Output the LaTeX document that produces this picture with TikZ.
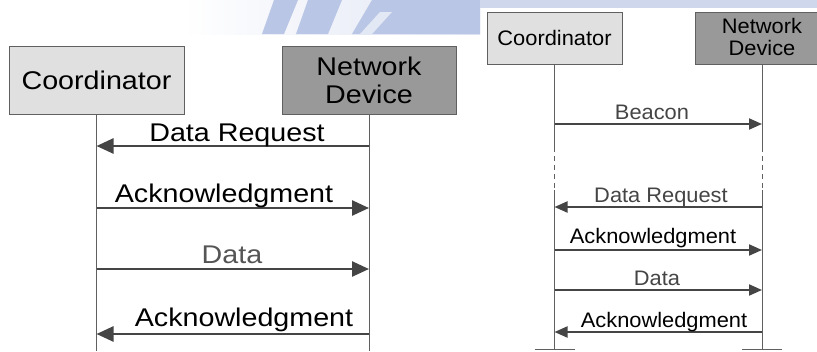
\documentclass[tikz,border=0pt]{standalone}
\usepackage{fontspec}
\usetikzlibrary{arrows.meta}
\newfontfamily\bigsf[FakeStretch=1.12]{Liberation Sans}
\newfontfamily\smallsf[FakeStretch=1.04]{Liberation Sans}
\definecolor{boxlight}{HTML}{E0E0E0}
\definecolor{boxdark}{HTML}{999999}
\definecolor{rulegray}{HTML}{606060}
\definecolor{msggray}{HTML}{454545}
\definecolor{datagray}{HTML}{555555}
\definecolor{wmblue}{HTML}{BAC6E5}
\begin{document}
\begin{tikzpicture}[x=1pt,y=-1pt,
  lightbox/.style={draw=rulegray,fill=boxlight,line width=1pt,inner sep=0pt,align=center},
  darkbox/.style={draw=rulegray,fill=boxdark,line width=1pt,inner sep=0pt,align=center},
  life/.style={draw=rulegray,line width=1pt},
  msgbig/.style={draw=msggray,line width=2.5pt,-{Triangle[length=17pt,width=15pt]}},
  msgsmall/.style={draw=msggray,line width=2pt,-{Triangle[length=13pt,width=11pt]}},
  txtbig/.style={font=\fontsize{25.6}{28}\bigsf,anchor=base,inner sep=0pt},
  txtsmall/.style={font=\fontsize{21}{22}\smallsf,anchor=base,inner sep=0pt}]
\fill[white] (0,0) rectangle (817,351);
\useasboundingbox (0,0) rectangle (817,351);
\begin{scope}
\clip (183,0) rectangle (480,34);
\shade[left color=white,right color=wmblue!45] (183,0) rectangle (480,34);
\fill[wmblue] (262,34) -- (284,34) -- (298,0) -- (274,0) -- cycle;
\fill[wmblue] (296,34) -- (328,34) -- (342,0) -- (308,0) -- cycle;
\fill[wmblue] (352,34) -- (480,34) -- (480,0) -- (372,0) -- cycle;
\fill[white!60!wmblue] (360,34) -- (372,34) -- (392,12) -- (380,12) -- cycle;
\end{scope}
\fill[wmblue!70] (480,0) rectangle (817,8);

% left: polling sequence
\node[lightbox,minimum width=175pt,minimum height=68pt,font=\fontsize{25.6}{28}\bigsf] (co1) at (96.5,80) {Coordinator};
\node[darkbox,minimum width=174pt,minimum height=68pt,font=\fontsize{25.6}{28}\bigsf] (nd1) at (369,80) {Network\\Device};
\coordinate (co1e) at (96.5,351);
\coordinate (nd1e) at (369,351);
\draw[life] (co1.south) -- (co1e);
\draw[life] (nd1.south) -- (nd1e);
\draw[msgbig] (nd1.south |- 0,146) -- (co1.south |- 0,146);
\draw[msgbig] (co1.south |- 0,208) -- (nd1.south |- 0,208);
\draw[msgbig] (co1.south |- 0,269) -- (nd1.south |- 0,269);
\draw[msgbig] (nd1.south |- 0,334) -- (co1.south |- 0,334);
\node[txtbig] (l1) at (237,141) {Data Request};
\node[txtbig] (l2) at (224,202) {Acknowledgment};
\node[txtbig,text=datagray] (l3) at (232,263) {Data};
\node[txtbig] (l4) at (244,326) {Acknowledgment};

% right: beacon sequence
\node[lightbox,minimum width=135pt,minimum height=52pt,font=\fontsize{21}{22}\smallsf] (co2) at (554.5,38) {Coordinator};
\node[darkbox,minimum width=122pt,minimum height=52pt] (nd2) at (756,38) {};
\node[align=center,inner sep=0pt,font=\fontsize{21}{22}\smallsf] (nd2t) at (762,37) {Network\\Device};
\coordinate (co2a) at (554.5,147);
\coordinate (co2b) at (554.5,190);
\coordinate (co2e) at (554.5,349);
\coordinate (nd2a) at (762,147);
\coordinate (nd2b) at (762,190);
\coordinate (nd2e) at (762,349);
\draw[life] (co2.south) -- (co2a);
\draw[life,dash pattern=on 5pt off 4pt] (co2a) -- (co2b);
\draw[life] (co2b) -- (co2e);
\draw[life] (nd2t |- nd2.south) -- (nd2a);
\draw[life,dash pattern=on 5pt off 4pt] (nd2a) -- (nd2b);
\draw[life] (nd2b) -- (nd2e);
\draw[life] ([xshift=-20pt]co2e) -- ([xshift=20pt]co2e);
\draw[life] ([xshift=-20pt]nd2e) -- ([xshift=20pt]nd2e);
\draw[msgsmall] (co2a |- 0,124) -- (nd2a |- 0,124);
\draw[msgsmall] (nd2a |- 0,207) -- (co2a |- 0,207);
\draw[msgsmall] (co2a |- 0,250) -- (nd2a |- 0,250);
\draw[msgsmall] (co2a |- 0,290) -- (nd2a |- 0,290);
\draw[msgsmall] (nd2a |- 0,332) -- (co2a |- 0,332);
\node[txtsmall,text=msggray] (r1) at (652,119) {Beacon};
\node[txtsmall,text=msggray] (r2) at (661,202) {Data Request};
\node[txtsmall] (r3) at (653,243) {Acknowledgment};
\node[txtsmall,text=msggray] (r4) at (657,285) {Data};
\node[txtsmall] (r5) at (664,327) {Acknowledgment};
\end{tikzpicture}
\end{document}
